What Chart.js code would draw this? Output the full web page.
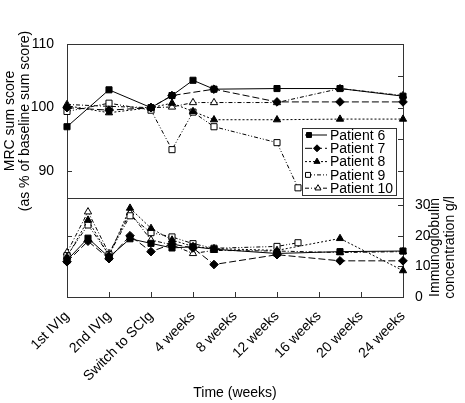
<!DOCTYPE html>
<html>
<head>
<meta charset="utf-8">
<script src="https://cdn.jsdelivr.net/npm/chart.js@4/dist/chart.umd.min.js"></script>
<style>
  html, body { margin: 0; padding: 0; background: #fff; }
</style>
</head>
<body>
<canvas id="chart" width="465" height="403"></canvas>
<script>
// x axis: one tick per time point, values are tick index (half steps = in between)
const timeLabels = ['1st IVIg', '2nd IVIg', 'Switch to SCIg', '4 weeks', '8 weeks', '12 weeks', '16 weeks', '20 weeks', '24 weeks'];
const patients = ['Patient 6', 'Patient 7', 'Patient 8', 'Patient 9', 'Patient 10'];

// MRC sum score (% of baseline)
const mrcX = [0, 1, 2, 2.5, 3, 3.5, 5, 5.5, 6.5, 8];
const mrcP6 = [97.0, 102.8, 100.0, 101.9, 104.3, 102.9, 103.0, null, 103.0, 101.8];
const mrcP7 = [100.0, 99.6, 100.0, 101.9, null, 102.9, 100.9, null, 100.9, 100.9];
const mrcP8 = [100.3, 99.2, 100.0, 100.7, 99.4, 98.1, 98.1, null, 98.2, 98.2];
const mrcP9 = [99.4, 100.7, 99.6, 93.4, 99.3, 97.0, 94.5, 87.4, null, null];
const mrcP10 = [100.5, 100.2, 100.0, 100.1, 100.8, 100.8, 100.8, null, 103.0, 101.9];

// Immunoglobulin concentration g/l
const igX = [0, 0.5, 1, 1.5, 2, 2.5, 3, 3.5, 5, 5.5, 6.5, 8];
const igP6 = [12.0, 19.2, 13.0, 19.0, 17.5, 16.0, 16.4, 15.6, 14.2, null, 14.8, 15.0];
const igP7 = [11.5, 18.2, 12.5, 20.0, 14.8, 17.3, 16.0, 10.6, 13.8, null, 11.8, 11.8];
const igP8 = [13.0, 25.1, 13.5, 29.0, 22.4, 18.6, 16.5, 15.8, 15.2, null, 19.1, 8.6];
const igP9 = [13.5, 23.5, 13.8, 26.5, 21.0, 19.6, 17.4, 15.9, 16.5, 17.7, null, null];
const igP10 = [14.5, 27.8, 14.2, 27.5, 18.6, 17.0, 14.2, 15.2, 15.0, null, 14.5, 14.8];

const mrcSeries = [mrcP6, mrcP7, mrcP8, mrcP9, mrcP10];
const igSeries = [igP6, igP7, igP8, igP9, igP10];

// marker / line style per patient
const styles = [
    { shape: 'rect', fill: '#000', dash: [], r: 4.3 },
    { shape: 'rectRot', fill: '#000', dash: [7, 3], r: 4.3 },
    { shape: 'triangle', fill: '#000', dash: [2, 2], r: 4.2 },
    { shape: 'rect', fill: '#fff', dash: [4, 2, 1, 2, 1, 2], r: 4.3 },
    { shape: 'triangle', fill: '#fff', dash: [4, 2, 1, 2], r: 4.2 }
];
const legendMarkX = [309, 317, 317, 308, 318];

const FONT = "'Liberation Sans', Arial, Helvetica, sans-serif";
Chart.defaults.font.family = FONT;
Chart.defaults.font.size = 14;
Chart.defaults.color = '#000';

function toPoints(xs, ys) {
    return xs.map((x, i) => ({ x: x, y: ys[i] }));
}

const datasets = [];
patients.forEach((name, i) => {
    const st = styles[i];
    const common = {
        label: name,
        borderColor: '#000',
        borderWidth: 1,
        borderDash: st.dash,
        pointStyle: st.shape,
        pointRadius: st.r,
        pointBackgroundColor: st.fill,
        pointBorderColor: '#000',
        pointBorderWidth: 1,
        spanGaps: true,
        tension: 0,
        fill: false,
        clip: false
    };
    datasets.push(Object.assign({}, common, { data: toPoints(mrcX, mrcSeries[i]), yAxisID: 'yTop' }));
    datasets.push(Object.assign({}, common, { data: toPoints(igX, igSeries[i]), yAxisID: 'yBot' }));
});

function setTicks(vals) {
    return scale => { scale.ticks = vals.map(v => ({ value: v })); };
}

// frame, divider and inward tick marks
const framePlugin = {
    id: 'framePlugin',
    beforeDatasetsDraw(chart) {
        const { ctx, chartArea: a } = chart;
        const top = chart.scales.yTop;
        ctx.save();
        ctx.strokeStyle = '#333';
        ctx.lineWidth = 1;
        ctx.strokeRect(a.left + 0.5, a.top + 0.5, a.right - a.left, a.bottom - a.top);
        ctx.beginPath();
        ctx.moveTo(a.left, Math.round(top.bottom) + 0.5);
        ctx.lineTo(a.right, Math.round(top.bottom) + 0.5);
        ctx.stroke();
        const len = 5;
        Object.values(chart.scales).forEach(s => {
            s.ticks.forEach(t => {
                const p = Math.round(s.getPixelForValue(t.value)) + 0.5;
                ctx.beginPath();
                if (s.axis === 'x') {
                    ctx.moveTo(p, s.top); ctx.lineTo(p, s.top - len);
                } else if (s.position === 'left') {
                    ctx.moveTo(s.right, p); ctx.lineTo(s.right + len, p);
                } else {
                    ctx.moveTo(s.left, p); ctx.lineTo(s.left - len, p);
                }
                ctx.stroke();
            });
        });
        ctx.restore();
    }
};

function drawMark(ctx, shape, x, y, r, fill) {
    ctx.beginPath();
    if (shape === 'rect') {
        const h = r * Math.SQRT1_2;
        ctx.rect(x - h, y - h, 2 * h, 2 * h);
    } else if (shape === 'rectRot') {
        ctx.moveTo(x, y - r); ctx.lineTo(x + r, y); ctx.lineTo(x, y + r); ctx.lineTo(x - r, y);
        ctx.closePath();
    } else {
        const s = r * 0.866;
        ctx.moveTo(x, y - r); ctx.lineTo(x + s, y + r / 2); ctx.lineTo(x - s, y + r / 2);
        ctx.closePath();
    }
    ctx.fillStyle = fill;
    ctx.fill();
    ctx.stroke();
}

// legend box inside the upper panel + right axis title (reads bottom to top)
const extrasPlugin = {
    id: 'extrasPlugin',
    afterDraw(chart) {
        const { ctx, chartArea: a } = chart;
        const top = chart.scales.yTop;
        const bot = chart.scales.yBot;
        ctx.save();
        const boxR = a.right - 7, boxL = a.left + 235, boxB = top.bottom - 3, boxT = boxB - 67;
        ctx.fillStyle = '#fff';
        ctx.fillRect(boxL, boxT, boxR - boxL, boxB - boxT);
        ctx.strokeStyle = '#333';
        ctx.lineWidth = 1;
        ctx.strokeRect(Math.round(boxL) + 0.5, Math.round(boxT) + 0.5, Math.round(boxR - boxL), Math.round(boxB - boxT));
        ctx.font = '14px ' + FONT;
        ctx.textBaseline = 'middle';
        ctx.textAlign = 'left';
        patients.forEach((name, i) => {
            const y = boxT + 7 + i * 13.3;
            const st = styles[i];
            ctx.strokeStyle = '#000';
            ctx.setLineDash(st.dash);
            ctx.beginPath();
            ctx.moveTo(boxL + 3, y); ctx.lineTo(boxL + 25, y);
            ctx.stroke();
            ctx.setLineDash([]);
            drawMark(ctx, st.shape, legendMarkX[i] - 403 + a.right, y, 3.5, st.fill);
            ctx.fillStyle = '#000';
            ctx.fillText(name, boxL + 28, y + 1);
        });
        // right title
        const cy = (bot.top + bot.bottom) / 2;
        ctx.translate(0, cy);
        ctx.rotate(-Math.PI / 2);
        ctx.textAlign = 'center';
        ctx.fillStyle = '#000';
        ctx.fillText('Immunoglobulin', 0, 435);
        ctx.fillText('concentration g/l', 0, 450);
        ctx.restore();
    }
};

new Chart(document.getElementById('chart'), {
    type: 'line',
    data: { datasets: datasets },
    options: {
        responsive: false,
        animation: false,
        layout: { padding: { top: 44, bottom: 0, left: 0, right: 0 } },
        plugins: { legend: { display: false }, tooltip: { enabled: false } },
        scales: {
            x: {
                type: 'linear',
                min: 0,
                max: 8,
                afterBuildTicks: setTicks([0, 1, 2, 3, 4, 5, 6, 7, 8]),
                afterFit: s => { s.height = 106; },
                grid: { display: false },
                border: { display: false },
                ticks: {
                    autoSkip: false,
                    maxRotation: 45,
                    minRotation: 45,
                    padding: 3,
                    callback: v => timeLabels[v]
                },
                title: { display: true, text: 'Time (weeks)', font: { size: 14 }, padding: { top: 0, bottom: 1 } }
            },
            yBotL: {
                type: 'linear',
                position: 'left',
                stack: 'L',
                stackWeight: 99,
                min: 0,
                max: 32.3,
                afterBuildTicks: setTicks([20]),
                afterFit: s => { s.width = 67; },
                grid: { display: false },
                border: { display: false },
                ticks: { display: false }
            },
            yTop: {
                type: 'linear',
                position: 'left',
                stack: 'L',
                stackWeight: 154,
                min: 85.8,
                max: 110,
                afterBuildTicks: setTicks([90, 100, 110]),
                afterFit: s => { s.width = 67; },
                grid: { display: false },
                border: { display: false },
                ticks: { padding: 5 },
                title: {
                    display: true,
                    text: ['MRC sum score', '(as % of baseline sum score)'],
                    font: { size: 14, lineHeight: 1.1 },
                    padding: { top: 2, bottom: 0 }
                }
            },
            yTopR: {
                type: 'linear',
                position: 'right',
                stack: 'R',
                stackWeight: 154,
                min: 85.8,
                max: 110,
                afterBuildTicks: setTicks([90, 95, 100, 105]),
                afterFit: s => { s.width = 62; },
                grid: { display: false },
                border: { display: false },
                ticks: { display: false }
            },
            yBot: {
                type: 'linear',
                position: 'right',
                stack: 'R',
                stackWeight: 99,
                min: 0,
                max: 32.3,
                afterBuildTicks: setTicks([0, 10, 20, 30]),
                afterFit: s => { s.width = 62; },
                grid: { display: false },
                border: { display: false },
                ticks: { padding: 4 }
            }
        }
    },
    plugins: [framePlugin, extrasPlugin]
});
</script>
</body>
</html>
